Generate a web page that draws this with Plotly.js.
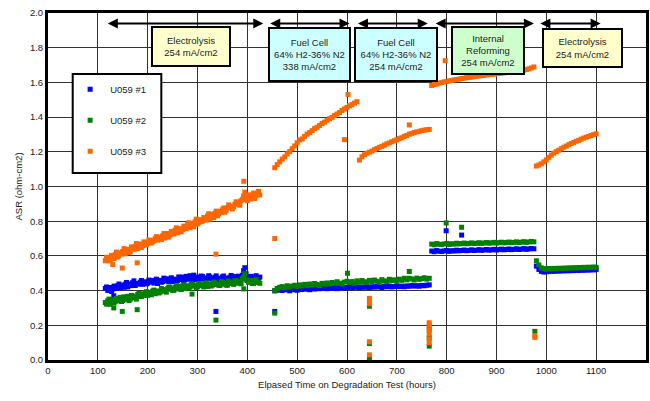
<!DOCTYPE html>
<html>
<head>
<meta charset="utf-8">
<script src="https://cdn.plot.ly/plotly-3.0.1.min.js"></script>
<style>html,body{margin:0;padding:0;background:#fff;}#chart{width:650px;height:401px;}</style>
</head>
<body>
<div id="chart"></div>
<script>
// ---- Data (hours, ASR ohm-cm2) ----
const hoursA = [115,120,125,130,135,140,145,150,155,160,165,170,175,180,185,190,195,200,205,210,215,220,225,230,235,240,245,250,255,260,265,270,275,280,285,290,295,300,305,310,315,320,325,330,335,340,345,350,355,360,365,370,375,380,385,390,395,400,405,410,415,420,425];
const hoursA2 = [117.5,122.5,127.5,132.5,137.5,142.5,147.5,152.5,157.5,162.5,167.5,172.5,177.5,182.5,187.5,192.5,197.5,202.5,207.5,212.5,217.5,222.5,227.5,232.5,237.5,242.5,247.5,252.5,257.5,262.5,267.5,272.5,277.5,282.5,287.5,292.5,297.5,302.5,307.5,312.5,317.5,322.5,327.5,332.5,337.5,342.5,347.5,352.5,357.5,362.5,367.5,372.5,377.5,382.5,387.5,392.5,397.5,402.5,407.5,412.5,417.5,422.5];
const hoursB = [455,460,465,470,475,480,485,490,495,500,505,510,515,520,525,530,535,540,545,550,555,560,565,570,575,580,585,590,595,600,605,610,615,620,625,630,635,640,645,650,655,660,665,670,675,680,685,690,695,700,705,710,715,720,725,730,735,740,745,750,755,760,765];
const hoursC = [770,775,780,785,790,795,800,805,810,815,820,825,830,835,840,845,850,855,860,865,870,875,880,885,890,895,900,905,910,915,920,925,930,935,940,945,950,955,960,965,970,975];
const hoursD = [980,985,990,995,1000,1005,1010,1015,1020,1025,1030,1035,1040,1045,1050,1055,1060,1065,1070,1075,1080,1085,1090,1095,1100];

// U059 #1 (blue)
const u1A = [0.412,0.401,0.418,0.409,0.422,0.428,0.417,0.431,0.437,0.421,0.439,0.446,0.429,0.441,0.448,0.436,0.451,0.443,0.452,0.458,0.447,0.441,0.459,0.452,0.461,0.468,0.457,0.451,0.466,0.459,0.471,0.478,0.463,0.469,0.486,0.472,0.462,0.478,0.471,0.481,0.464,0.473,0.479,0.468,0.476,0.462,0.471,0.479,0.468,0.463,0.477,0.472,0.481,0.469,0.462,0.488,0.532,0.479,0.468,0.476,0.461,0.472,0.478];
const u1A2 = [0.421,0.408,0.395,0.426,0.414,0.438,0.425,0.419,0.447,0.433,0.429,0.456,0.441,0.437,0.458,0.446,0.439,0.461,0.449,0.443,0.466,0.452,0.448,0.472,0.456,0.452,0.474,0.461,0.455,0.479,0.463,0.458,0.482,0.466,0.461,0.489,0.469,0.462,0.484,0.468,0.461,0.486,0.471,0.463,0.485,0.469,0.462,0.484,0.472,0.466,0.487,0.471,0.464,0.483,0.472,0.515,0.497,0.466,0.482,0.471,0.486,0.463];
const u1B = [0.398,0.402,0.405,0.401,0.407,0.404,0.399,0.408,0.405,0.402,0.409,0.406,0.412,0.408,0.405,0.413,0.409,0.415,0.411,0.414,0.416,0.411,0.415,0.418,0.414,0.411,0.417,0.419,0.415,0.418,0.421,0.417,0.419,0.422,0.418,0.421,0.419,0.423,0.418,0.422,0.420,0.424,0.421,0.418,0.425,0.422,0.426,0.421,0.424,0.427,0.423,0.426,0.422,0.427,0.425,0.429,0.426,0.428,0.425,0.430,0.428,0.431,0.433];
const u1C = [0.628,0.624,0.631,0.627,0.625,0.629,0.632,0.626,0.630,0.628,0.633,0.629,0.631,0.634,0.630,0.632,0.635,0.631,0.633,0.636,0.632,0.634,0.637,0.633,0.635,0.638,0.634,0.636,0.639,0.635,0.637,0.640,0.636,0.638,0.641,0.637,0.639,0.642,0.638,0.640,0.643,0.641];
const u1D = [0.541,0.522,0.511,0.507,0.509,0.511,0.513,0.511,0.514,0.512,0.515,0.513,0.516,0.514,0.517,0.515,0.518,0.516,0.519,0.517,0.520,0.518,0.521,0.519,0.522];
const u1OutX = [132,337,455,799,830];
const u1OutY = [0.37,0.28,0.28,0.745,0.72];

// U059 #2 (green)
const u2A = [0.331,0.342,0.321,0.348,0.338,0.352,0.361,0.343,0.358,0.367,0.351,0.369,0.359,0.377,0.368,0.381,0.389,0.372,0.388,0.397,0.382,0.398,0.391,0.406,0.399,0.411,0.418,0.402,0.417,0.409,0.426,0.418,0.411,0.428,0.421,0.436,0.429,0.422,0.438,0.431,0.441,0.424,0.439,0.432,0.446,0.437,0.429,0.447,0.439,0.431,0.448,0.441,0.456,0.443,0.451,0.468,0.497,0.458,0.449,0.441,0.457,0.448,0.442];
const u2A2 = [0.322,0.351,0.336,0.329,0.356,0.341,0.337,0.364,0.349,0.342,0.372,0.358,0.351,0.384,0.366,0.372,0.394,0.381,0.376,0.403,0.389,0.386,0.412,0.397,0.391,0.421,0.407,0.401,0.428,0.412,0.406,0.434,0.418,0.413,0.439,0.426,0.418,0.441,0.429,0.421,0.445,0.432,0.426,0.449,0.436,0.431,0.452,0.438,0.432,0.455,0.441,0.436,0.458,0.444,0.439,0.476,0.462,0.448,0.459,0.441,0.463,0.447];
const u2B = [0.401,0.412,0.419,0.423,0.416,0.428,0.421,0.426,0.431,0.424,0.433,0.427,0.436,0.429,0.438,0.432,0.441,0.435,0.429,0.442,0.437,0.444,0.438,0.447,0.441,0.451,0.443,0.438,0.449,0.454,0.446,0.452,0.443,0.456,0.449,0.458,0.451,0.447,0.459,0.452,0.461,0.454,0.449,0.463,0.456,0.451,0.465,0.458,0.462,0.455,0.466,0.459,0.471,0.462,0.471,0.467,0.461,0.472,0.465,0.469,0.474,0.466,0.471];
const u2C = [0.668,0.664,0.671,0.667,0.665,0.669,0.672,0.666,0.670,0.668,0.673,0.669,0.671,0.674,0.670,0.672,0.675,0.671,0.673,0.676,0.672,0.674,0.677,0.673,0.675,0.678,0.674,0.676,0.679,0.675,0.677,0.680,0.676,0.678,0.681,0.677,0.679,0.682,0.678,0.680,0.683,0.681];
const u2D = [0.572,0.548,0.531,0.526,0.524,0.527,0.525,0.528,0.526,0.529,0.527,0.530,0.528,0.531,0.529,0.532,0.530,0.533,0.531,0.534,0.532,0.535,0.533,0.536,0.534];
const u2OutX = [132,149,179,289,337,393,455,601,725,799,830,645,645,645,765,765,765,977];
const u2OutY = [0.30,0.28,0.29,0.38,0.23,0.41,0.27,0.50,0.51,0.79,0.765,0.31,0.095,0.01,0.18,0.13,0.08,0.165];

// U059 #3 (orange)
const u3A = [0.572,0.588,0.579,0.601,0.607,0.594,0.618,0.626,0.612,0.638,0.624,0.647,0.655,0.641,0.668,0.659,0.677,0.671,0.688,0.682,0.699,0.691,0.708,0.716,0.703,0.729,0.721,0.738,0.748,0.733,0.757,0.751,0.768,0.779,0.762,0.788,0.797,0.784,0.809,0.801,0.818,0.829,0.812,0.838,0.846,0.831,0.857,0.866,0.852,0.877,0.886,0.871,0.898,0.907,0.892,0.925,0.968,0.918,0.936,0.948,0.931,0.958,0.951];
const u3A2 = [0.592,0.571,0.603,0.584,0.622,0.603,0.611,0.642,0.628,0.619,0.652,0.638,0.671,0.655,0.649,0.681,0.663,0.692,0.674,0.688,0.711,0.697,0.694,0.729,0.714,0.708,0.741,0.726,0.762,0.744,0.739,0.772,0.756,0.791,0.772,0.768,0.812,0.793,0.798,0.821,0.806,0.843,0.826,0.821,0.858,0.842,0.851,0.876,0.861,0.894,0.878,0.883,0.912,0.897,0.918,0.946,0.931,0.952,0.928,0.962,0.947,0.972];
const u3B = [1.108,1.126,1.142,1.158,1.171,1.188,1.201,1.218,1.234,1.252,1.268,1.274,1.289,1.302,1.311,1.322,1.334,1.341,1.352,1.363,1.371,1.382,1.391,1.398,1.409,1.418,1.426,1.438,1.447,1.456,1.465,1.472,1.481,1.489,
             1.152,1.171,1.183,1.192,1.198,1.204,1.212,1.219,1.226,1.231,1.238,1.246,1.251,1.258,1.264,1.269,1.276,1.281,1.289,1.294,1.302,1.306,1.311,1.315,1.318,1.322,1.325,1.327,1.329];
const u3C = [1.582,1.588,1.591,1.596,1.599,1.603,1.605,1.609,1.611,1.614,1.617,1.619,1.622,1.624,1.627,1.629,1.631,1.633,1.636,1.637,1.639,1.641,1.643,1.645,1.646,1.648,1.650,1.652,1.654,1.655,1.657,1.659,1.661,1.663,1.664,1.666,1.668,1.671,1.674,1.678,1.683,1.689];
const u3D = [1.118,1.124,1.131,1.142,1.153,1.168,1.181,1.192,1.201,1.209,1.218,1.226,1.233,1.241,1.248,1.254,1.261,1.266,1.273,1.279,1.284,1.289,1.294,1.299,1.304];
const u3OutX = [130,149,179,337,393,455,595,602,725,797,645,645,645,645,645,765,765,765,765,765,765,977,977];
const u3OutY = [0.55,0.53,0.56,0.61,1.03,0.70,1.27,1.53,1.355,1.725,0.355,0.34,0.325,0.105,0.03,0.215,0.20,0.17,0.15,0.12,0.10,0.14,0.13];

const seriesNames = ['U059 #1','U059 #2','U059 #3'];
const seriesColors = ['#0000ff','#008000','#ff6600'];

// Phase annotations
const phaseLabels = ['Electrolysis<br>254 mA/cm2','Fuel Cell<br>64% H2-36% N2<br>338 mA/cm2','Fuel Cell<br>64% H2-36% N2<br>254 mA/cm2','Internal<br>Reforming<br>254 mA/cm2','Electrolysis<br>254 mA/cm2'];
const phaseStart = [117,443,619,775,985];
const phaseEnd = [432,605,762,975,1109];

// ---- Build ----
const allX = [hoursA, hoursA2, hoursB, hoursC, hoursD];
function mk(idx, segs, ox, oy) {
  let x = [], y = [];
  segs.forEach((s, i) => { x = x.concat(allX[i]); y = y.concat(s); });
  x = x.concat(ox); y = y.concat(oy);
  return {
    x: x, y: y, type: 'scatter', mode: 'markers', name: seriesNames[idx],
    legendgroup: 'g' + idx,
    marker: {symbol: 'square', size: 5, color: seriesColors[idx], line: {width: 0}},
    hoverinfo: 'x+y'
  };
}
const traces = [
  mk(0, [u1A, u1A2, u1B, u1C, u1D], u1OutX, u1OutY),
  mk(1, [u2A, u2A2, u2B, u2C, u2D], u2OutX, u2OutY),
  mk(2, [u3A, u3A2, u3B, u3C, u3D], u3OutX, u3OutY)
];

const FONT = 'Liberation Sans, Arial, sans-serif';
const boxCfg = [
  {x: 286, y: 1.808, w: 74, h: 35, bg: '#ffffcc'},
  {x: 524, y: 1.760, w: 77, h: 49, bg: '#ccffff'},
  {x: 698, y: 1.761, w: 78, h: 49, bg: '#ccffff'},
  {x: 883, y: 1.785, w: 68, h: 43, bg: '#ccffcc'},
  {x: 1072, y: 1.798, w: 75, h: 34, bg: '#ffffcc'}
];
const annotations = [];
phaseStart.forEach((s, i) => {
  annotations.push({
    x: phaseEnd[i], y: 1.94, ax: s, ay: 1.94, xref: 'x', yref: 'y', axref: 'x', ayref: 'y',
    text: '', showarrow: true, arrowhead: 2, arrowside: 'end+start', arrowsize: 1, arrowwidth: 2, arrowcolor: '#000'
  });
});
phaseLabels.forEach((t, i) => {
  const b = boxCfg[i];
  annotations.push({
    x: b.x, y: b.y, xref: 'x', yref: 'y', text: t, showarrow: false,
    width: b.w, height: b.h, bgcolor: b.bg, bordercolor: '#000', borderwidth: 2, borderpad: 1,
    font: {family: FONT, size: 9.5, color: '#222'}, align: 'center', valign: 'middle'
  });
});

const layout = {
  width: 650, height: 401,
  margin: {l: 48, r: 4, t: 13, b: 41},
  paper_bgcolor: '#fff', plot_bgcolor: '#fff',
  font: {family: FONT, size: 9.5, color: '#222'},
  showlegend: true,
  legend: {x: 0.037, y: 0.822, xanchor: 'left', yanchor: 'top', bgcolor: 'rgba(0,0,0,0)', borderwidth: 0,
           font: {family: FONT, size: 9.5, color: '#222'}, tracegroupgap: 12},
  xaxis: {range: [0, 1200], dtick: 100, tick0: 0, showgrid: true, gridcolor: '#333', gridwidth: 1,
          showline: true, linecolor: '#000', linewidth: 3, mirror: true, zeroline: false, ticks: '',
          tickfont: {family: FONT, size: 9.5, color: '#222'},
          title: {text: 'Elpased Time on Degradation Test (hours)', standoff: 6, font: {family: FONT, size: 9.5, color: '#222'}}},
  yaxis: {range: [0, 2], dtick: 0.2, tick0: 0, tickformat: '.1f', showgrid: true, gridcolor: '#333', gridwidth: 1,
          showline: true, linecolor: '#000', linewidth: 3, mirror: true, zeroline: false, ticks: '',
          tickfont: {family: FONT, size: 9.5, color: '#222'},
          title: {text: 'ASR (ohm-cm2)', standoff: 6, font: {family: FONT, size: 9.5, color: '#222'}}},
  shapes: [{type: 'rect', xref: 'paper', yref: 'paper', x0: 0.0413, x1: 0.1895, y0: 0.5389, y1: 0.8242,
            line: {color: '#000', width: 2}, fillcolor: '#fff', layer: 'above'}],
  annotations: annotations
};

Plotly.newPlot('chart', traces, layout, {displayModeBar: false, staticPlot: true});
</script>
</body>
</html>
